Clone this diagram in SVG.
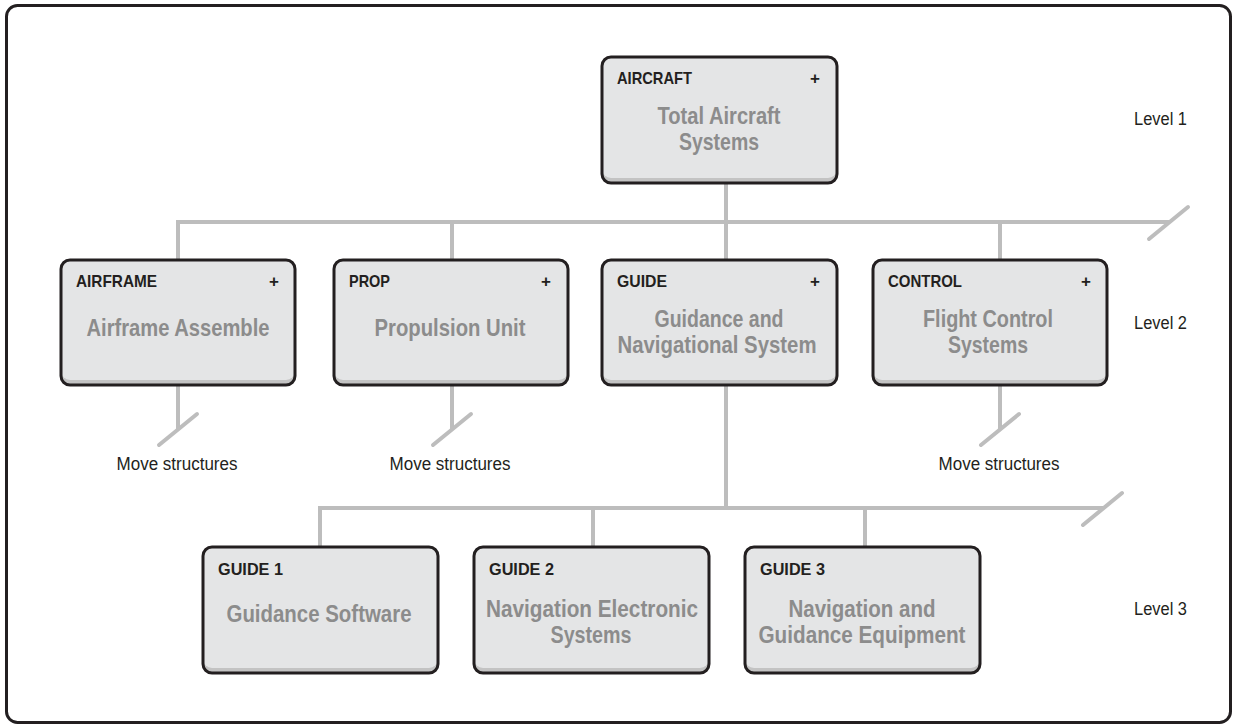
<svg xmlns="http://www.w3.org/2000/svg" width="1233" height="725" viewBox="0 0 1233 725">
  <style>
    .frame { fill: #ffffff; stroke: #231f20; stroke-width: 3; }
    .band { fill: #c3c3c3; }
    .face { fill: #e4e5e6; }
    .edge { fill: none; stroke: #231f20; stroke-width: 3; }
    .hdr { font-family: "Liberation Sans", Arial, sans-serif; font-weight: bold; font-size: 17px; fill: #231f20; }
    .plus { font-family: "Liberation Sans", Arial, sans-serif; font-weight: bold; font-size: 17px; fill: #231f20; text-anchor: middle; }
    .title { font-family: "Liberation Sans", Arial, sans-serif; font-weight: bold; font-size: 24px; fill: #8c8c8c; text-anchor: middle; }
    .note { font-family: "Liberation Sans", Arial, sans-serif; font-size: 18px; fill: #231f20; }
    .wire { fill: none; stroke: #bdbdbd; stroke-width: 4; stroke-linecap: butt; }
    .cut { fill: none; stroke: #bdbdbd; stroke-width: 4; stroke-linecap: round; }
  </style>

  <!-- outer frame -->
  <rect class="frame" x="6.5" y="5.5" width="1224" height="717" rx="11"/>

  <!-- connectors -->
  <g id="connectors">
    <!-- level 1 to level 2 -->
    <line class="wire" x1="726" y1="183" x2="726" y2="222"/>
    <line class="wire" x1="176" y1="222" x2="1170" y2="222"/>
    <line class="wire" x1="178" y1="222" x2="178" y2="260"/>
    <line class="wire" x1="452" y1="222" x2="452" y2="260"/>
    <line class="wire" x1="726" y1="222" x2="726" y2="260"/>
    <line class="wire" x1="1000" y1="222" x2="1000" y2="260"/>
    <line class="cut" x1="1149" y1="239" x2="1188" y2="207"/>

    <!-- stubs under level 2 -->
    <line class="wire" x1="178" y1="385" x2="178" y2="430"/>
    <line class="cut" x1="159" y1="445" x2="197" y2="414"/>
    <line class="wire" x1="452" y1="385" x2="452" y2="430"/>
    <line class="cut" x1="433" y1="445" x2="471" y2="414"/>
    <line class="wire" x1="1000" y1="385" x2="1000" y2="430"/>
    <line class="cut" x1="981" y1="445" x2="1019" y2="414"/>

    <!-- level 2 to level 3 -->
    <line class="wire" x1="726" y1="385" x2="726" y2="508"/>
    <line class="wire" x1="318" y1="508" x2="1104" y2="508"/>
    <line class="wire" x1="320" y1="508" x2="320" y2="547"/>
    <line class="wire" x1="593" y1="508" x2="593" y2="547"/>
    <line class="wire" x1="865" y1="508" x2="865" y2="547"/>
    <line class="cut" x1="1083" y1="525" x2="1122" y2="493"/>
  </g>

  <!-- level 1 -->
  <g id="aircraft">
    <rect class="band" x="602" y="57" width="235" height="126" rx="9"/>
    <rect class="face" x="602" y="57" width="235" height="121" rx="9"/>
    <rect class="edge" x="602" y="57" width="235" height="126" rx="9"/>
    <text class="hdr" x="617" y="84" textLength="75" lengthAdjust="spacingAndGlyphs">AIRCRAFT</text>
    <text class="plus" x="815" y="84">+</text>
    <text class="title" x="719" y="124" textLength="123" lengthAdjust="spacingAndGlyphs">Total Aircraft</text>
    <text class="title" x="719" y="150" textLength="80" lengthAdjust="spacingAndGlyphs">Systems</text>
  </g>

  <!-- level 2 -->
  <g id="airframe">
    <rect class="band" x="61" y="260" width="234" height="125" rx="9"/>
    <rect class="face" x="61" y="260" width="234" height="120" rx="9"/>
    <rect class="edge" x="61" y="260" width="234" height="125" rx="9"/>
    <text class="hdr" x="76" y="287" textLength="81" lengthAdjust="spacingAndGlyphs">AIRFRAME</text>
    <text class="plus" x="274" y="287">+</text>
    <text class="title" x="178" y="336" textLength="183" lengthAdjust="spacingAndGlyphs">Airframe Assemble</text>
  </g>

  <g id="prop">
    <rect class="band" x="334" y="260" width="234" height="125" rx="9"/>
    <rect class="face" x="334" y="260" width="234" height="120" rx="9"/>
    <rect class="edge" x="334" y="260" width="234" height="125" rx="9"/>
    <text class="hdr" x="349" y="287" textLength="41" lengthAdjust="spacingAndGlyphs">PROP</text>
    <text class="plus" x="546" y="287">+</text>
    <text class="title" x="450" y="336" textLength="151" lengthAdjust="spacingAndGlyphs">Propulsion Unit</text>
  </g>

  <g id="guide">
    <rect class="band" x="602" y="260" width="235" height="125" rx="9"/>
    <rect class="face" x="602" y="260" width="235" height="120" rx="9"/>
    <rect class="edge" x="602" y="260" width="235" height="125" rx="9"/>
    <text class="hdr" x="617" y="287" textLength="50" lengthAdjust="spacingAndGlyphs">GUIDE</text>
    <text class="plus" x="815" y="287">+</text>
    <text class="title" x="719" y="327" textLength="129" lengthAdjust="spacingAndGlyphs">Guidance and</text>
    <text class="title" x="717" y="353" textLength="199" lengthAdjust="spacingAndGlyphs">Navigational System</text>
  </g>

  <g id="control">
    <rect class="band" x="873" y="260" width="234" height="125" rx="9"/>
    <rect class="face" x="873" y="260" width="234" height="120" rx="9"/>
    <rect class="edge" x="873" y="260" width="234" height="125" rx="9"/>
    <text class="hdr" x="888" y="287" textLength="74" lengthAdjust="spacingAndGlyphs">CONTROL</text>
    <text class="plus" x="1086" y="287">+</text>
    <text class="title" x="988" y="327" textLength="130" lengthAdjust="spacingAndGlyphs">Flight Control</text>
    <text class="title" x="988" y="353" textLength="80" lengthAdjust="spacingAndGlyphs">Systems</text>
  </g>

  <!-- notes under level 2 -->
  <g id="move-notes">
    <text class="note" x="177" y="470" text-anchor="middle" textLength="121" lengthAdjust="spacingAndGlyphs">Move structures</text>
    <text class="note" x="450" y="470" text-anchor="middle" textLength="121" lengthAdjust="spacingAndGlyphs">Move structures</text>
    <text class="note" x="999" y="470" text-anchor="middle" textLength="121" lengthAdjust="spacingAndGlyphs">Move structures</text>
  </g>

  <!-- level 3 -->
  <g id="guide-1">
    <rect class="band" x="203" y="547" width="235" height="126" rx="9"/>
    <rect class="face" x="203" y="547" width="235" height="121" rx="9"/>
    <rect class="edge" x="203" y="547" width="235" height="126" rx="9"/>
    <text class="hdr" x="218" y="575" textLength="65" lengthAdjust="spacingAndGlyphs">GUIDE 1</text>
    <text class="title" x="319" y="622" textLength="185" lengthAdjust="spacingAndGlyphs">Guidance Software</text>
  </g>

  <g id="guide-2">
    <rect class="band" x="474" y="547" width="235" height="126" rx="9"/>
    <rect class="face" x="474" y="547" width="235" height="121" rx="9"/>
    <rect class="edge" x="474" y="547" width="235" height="126" rx="9"/>
    <text class="hdr" x="489" y="575" textLength="65" lengthAdjust="spacingAndGlyphs">GUIDE 2</text>
    <text class="title" x="592" y="617" textLength="212" lengthAdjust="spacingAndGlyphs">Navigation Electronic</text>
    <text class="title" x="591" y="643" textLength="81" lengthAdjust="spacingAndGlyphs">Systems</text>
  </g>

  <g id="guide-3">
    <rect class="band" x="745" y="547" width="235" height="126" rx="9"/>
    <rect class="face" x="745" y="547" width="235" height="121" rx="9"/>
    <rect class="edge" x="745" y="547" width="235" height="126" rx="9"/>
    <text class="hdr" x="760" y="575" textLength="65" lengthAdjust="spacingAndGlyphs">GUIDE 3</text>
    <text class="title" x="862" y="617" textLength="147" lengthAdjust="spacingAndGlyphs">Navigation and</text>
    <text class="title" x="862" y="643" textLength="207" lengthAdjust="spacingAndGlyphs">Guidance Equipment</text>
  </g>

  <!-- level labels -->
  <g id="levels">
    <text class="note" x="1134" y="125" textLength="53" lengthAdjust="spacingAndGlyphs">Level 1</text>
    <text class="note" x="1134" y="329" textLength="53" lengthAdjust="spacingAndGlyphs">Level 2</text>
    <text class="note" x="1134" y="615" textLength="53" lengthAdjust="spacingAndGlyphs">Level 3</text>
  </g>
</svg>
